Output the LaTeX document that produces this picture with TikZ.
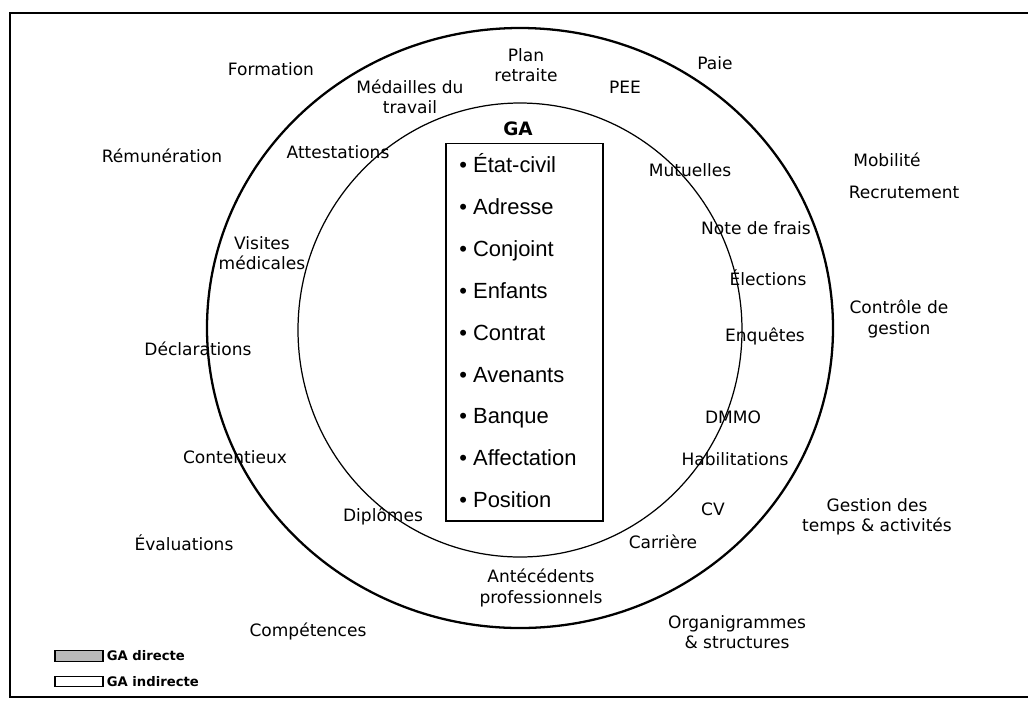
\documentclass[tikz,border=0pt]{standalone}
\usepackage{fontspec}
\setmainfont{DejaVu Sans}
\newfontfamily\listfont{Liberation Sans}
\usetikzlibrary{positioning}

\begin{document}
\begin{tikzpicture}[x=0.02cm,y=-0.02cm,
  lbl/.style={align=center,inner sep=0pt,font=\fontsize{9.7}{11.7}\selectfont},
  item/.style={anchor=base west,inner sep=0pt,font=\listfont\fontsize{12.5}{15}\selectfont},
  key/.style={draw,minimum width=0.96cm,minimum height=0.21cm,inner sep=0pt,line width=0.6pt},
  keytext/.style={anchor=west,inner sep=0pt,font=\bfseries\fontsize{7.5}{9}\selectfont}]
\useasboundingbox (0,0) rectangle (1028,701);
\draw [line width=0.7pt] (1028,13) -- (10,13) -- (10,697) -- (1028,697);
\draw [line width=1.3pt] (520,328) ellipse [x radius=313, y radius=300];
\draw [line width=0.7pt] (520,330) ellipse [x radius=222, y radius=227];
\node [draw,line width=0.6pt,minimum width=3.14cm,minimum height=7.56cm,inner sep=0pt] (gabox) at (524.5,332) {};
\node [inner sep=0pt,font=\bfseries\fontsize{10.5}{12}\selectfont,above=0.12cm of gabox,xshift=-0.13cm] (ga) {GA};
\foreach \t [count=\i] in {État-civil,Adresse,Conjoint,Enfants,Contrat,Avenants,Banque,Affectation,Position}
  \node [item] (it\i) at (459,{172.5+41.9*(\i-1)}) {\textbullet\ \t};
\node [lbl] (formation) at (271,69) {Formation};
\node [lbl] (medailles) at (410,97) {Médailles du\\travail};
\node [lbl] (plan) at (526,65) {Plan\\retraite};
\node [lbl] (pee) at (625,87) {PEE};
\node [lbl] (paie) at (715,63) {Paie};
\node [lbl] (remun) at (162,156) {Rémunération};
\node [lbl] (attest) at (338,152) {Attestations};
\node [lbl] (mobil) at (887,160) {Mobilité};
\node [lbl] (recrut) at (904,192) {Recrutement};
\node [lbl] (mutu) at (690,170) {Mutuelles};
\node [lbl] (frais) at (756,228) {Note de frais};
\node [lbl] (visites) at (262,253) {Visites\\médicales};
\node [lbl] (elect) at (768,278) {Élections};
\node [lbl] (controle) at (899,319) {Contrôle de\\gestion};
\node [lbl] (enq) at (765,336) {Enquêtes};
\node [lbl] (declar) at (198,349) {Déclarations};
\node [lbl] (dmmo) at (733,417) {DMMO};
\node [lbl] (content) at (235,457) {Contentieux};
\node [lbl] (habil) at (735,459) {Habilitations};
\node [lbl] (cv) at (713,509) {CV};
\node [lbl] (gestion) at (877,517) {Gestion des\\temps \& activités};
\node [lbl] (diplomes) at (383,516) {Diplômes};
\node [lbl] (evals) at (184,543) {Évaluations};
\node [lbl] (carriere) at (663,542) {Carrière};
\node [lbl] (antec) at (541,588) {Antécédents\\professionnels};
\node [lbl] (compet) at (308,631) {Compétences};
\node [lbl] (organi) at (737,632) {Organigrammes\\\& structures};
\node [key,fill=gray!55] (kdir) at (79,656) {};
\node [keytext,right=0.06cm of kdir] (tdir) {GA directe};
\node [key] (kind) at (79,681.5) {};
\node [keytext,right=0.06cm of kind] (tind) {GA indirecte};
\end{tikzpicture}
\end{document}
